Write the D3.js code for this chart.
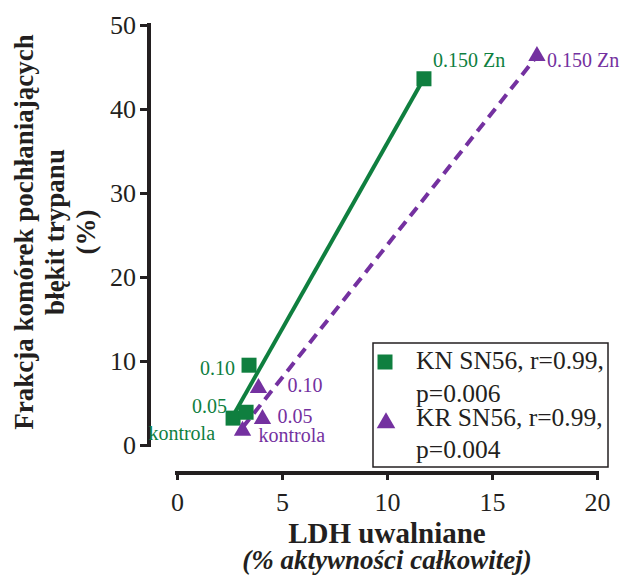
<!DOCTYPE html>
<html>
<head>
<meta charset="utf-8">
<script src="https://cdn.jsdelivr.net/npm/d3@7"></script>
<style>
  html, body { margin: 0; padding: 0; background: #fff; }
  svg { display: block; }
  text { font-family: "Liberation Serif", "Times New Roman", serif; }
</style>
</head>
<body>
<svg id="chart" width="621" height="579"></svg>
<script>
// ---- data ----
const doseLabels = ["kontrola", "0.05", "0.10", "0.150 Zn"];
const knLDH      = [2.67, 3.29, 3.43, 11.76];
const knTrypan   = [3.2, 3.9, 9.5, 43.6];
const krLDH      = [3.12, 4.07, 3.88, 17.14];
const krTrypan   = [1.7, 3.1, 6.8, 46.3];
const seriesNames = ["KN SN56, r=0.99,", "KR SN56, r=0.99,"];
const seriesStats = ["p=0.006", "p=0.004"];
const xTicks = [0, 5, 10, 15, 20];
const yTicks = [0, 10, 20, 30, 40, 50];

// ---- style ----
const GREEN = "#0f7f3f", PURPLE = "#7431a0", AXIS = "#231f20";
const svg = d3.select("#chart");
const x = d3.scaleLinear().domain([0, 20]).range([177, 597]);
const y = d3.scaleLinear().domain([0, 50]).range([445, 25]);

// axes
const yAxis = svg.append("g").attr("transform", "translate(149,0)")
  .call(d3.axisLeft(y).tickValues(yTicks).tickSize(9).tickPadding(4).tickSizeOuter(0));
const xAxis = svg.append("g").attr("transform", "translate(0,473)")
  .call(d3.axisBottom(x).tickValues(xTicks).tickSize(7).tickPadding(6).tickSizeOuter(0));
[yAxis, xAxis].forEach(g => {
  g.select(".domain").attr("stroke", AXIS).attr("stroke-width", 4);
  g.selectAll(".tick line").attr("stroke", AXIS).attr("stroke-width", 3);
  g.selectAll(".tick text").attr("fill", AXIS)
    .style("font-family", '"Liberation Serif", "Times New Roman", serif')
    .style("font-size", "26px");
});
yAxis.select(".domain").attr("d", `M0,${y(50)-2}V${y(0)+2}`);
xAxis.select(".domain").attr("d", `M${x(0)-2},0H${x(20)+2}`);
xAxis.selectAll(".tick text").attr("dy", "0.95em");

// regression lines (least squares fit of the data)
function fit(xs, ys) {
  const mx = d3.mean(xs), my = d3.mean(ys);
  const sxy = d3.sum(xs, (v, i) => (v - mx) * (ys[i] - my));
  const sxx = d3.sum(xs, v => (v - mx) * (v - mx));
  const b = sxy / sxx, a = my - b * mx;
  const x0 = d3.min(xs), x1 = d3.max(xs);
  return [[x0, a + b * x0], [x1, a + b * x1]];
}
const line = d3.line().x(d => x(d[0])).y(d => y(d[1]));
svg.append("path").attr("d", line(fit(knLDH, knTrypan)))
  .attr("stroke", GREEN).attr("stroke-width", 4).attr("fill", "none");
svg.append("path").attr("d", line(fit(krLDH, krTrypan)))
  .attr("stroke", PURPLE).attr("stroke-width", 4).attr("fill", "none")
  .attr("stroke-dasharray", "11,7");

// markers
const sq = d3.symbol().type(d3.symbolSquare).size(225);
const tri = d3.symbol().type(d3.symbolTriangle).size(130);
svg.append("g").selectAll("path").data(knLDH).join("path")
  .attr("d", sq).attr("fill", GREEN)
  .attr("transform", (d, i) => `translate(${x(d)},${y(knTrypan[i])})`);
svg.append("g").selectAll("path").data(krLDH).join("path")
  .attr("d", tri).attr("fill", PURPLE)
  .attr("transform", (d, i) => `translate(${x(d)},${y(krTrypan[i])})`);

// point labels (offsets in px from the marker)
const knOff = [[-18, 22, "end"], [-19, 1, "end"], [-14, 10, "end"], [9, -12, "start"]];
const krOff = [[16, 11, "start"], [15, 4, "start"], [29, 4, "start"], [10, 11, "start"]];
doseLabels.forEach((lab, i) => {
  svg.append("text").text(lab).attr("fill", GREEN).style("font-size", "20px")
    .attr("x", x(knLDH[i]) + knOff[i][0]).attr("y", y(knTrypan[i]) + knOff[i][1])
    .attr("text-anchor", knOff[i][2]);
  svg.append("text").text(lab).attr("fill", PURPLE).style("font-size", "20px")
    .attr("x", x(krLDH[i]) + krOff[i][0]).attr("y", y(krTrypan[i]) + krOff[i][1])
    .attr("text-anchor", krOff[i][2]);
});

// legend
const lg = svg.append("g");
lg.append("rect").attr("x", 373).attr("y", 343).attr("width", 235).attr("height", 124)
  .attr("fill", "#fff").attr("stroke", AXIS).attr("stroke-width", 1.5);
lg.append("path").attr("d", sq).attr("fill", GREEN).attr("transform", "translate(385,362)");
lg.append("path").attr("d", d3.symbol().type(d3.symbolTriangle).size(150))
  .attr("fill", PURPLE).attr("transform", "translate(386,423)");
const lgLines = [seriesNames[0], seriesStats[0], seriesNames[1], seriesStats[1]];
const lgY = [369, 402, 426, 458];
lgLines.forEach((t, i) => {
  lg.append("text").text(t).attr("x", 416).attr("y", lgY[i])
    .attr("fill", AXIS).style("font-size", "25.5px");
});

// axis titles
svg.append("text").text("LDH uwalniane").attr("x", 387).attr("y", 543)
  .attr("text-anchor", "middle").attr("fill", AXIS)
  .style("font-size", "29px").style("font-weight", "bold");
svg.append("text").text("(% aktywności całkowitej)").attr("x", 387).attr("y", 569)
  .attr("text-anchor", "middle").attr("fill", AXIS)
  .style("font-size", "27px").style("font-weight", "bold").style("font-style", "italic");

const yTitle = ["Frakcja komórek pochłaniających", "błękit trypanu", "(%)"];
const ytX = [33, 64, 95];
yTitle.forEach((t, i) => {
  svg.append("text").text(t)
    .attr("transform", `translate(${ytX[i]},232) rotate(-90)`)
    .attr("text-anchor", "middle").attr("fill", AXIS)
    .style("font-size", "27px").style("font-weight", "bold");
});
</script>
</body>
</html>
